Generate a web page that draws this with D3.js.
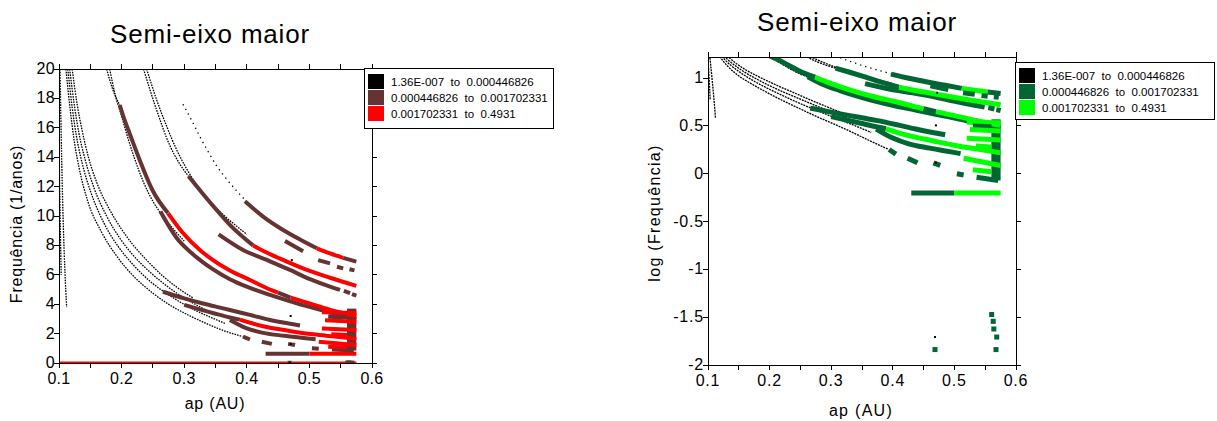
<!DOCTYPE html>
<html><head><meta charset="utf-8">
<script src="https://cdn.jsdelivr.net/npm/d3@7/dist/d3.min.js"></script>
<style>
body{margin:0;background:#fff}
svg{display:block}
text{font-family:Arial,"Liberation Sans",sans-serif;fill:#000}
</style>
</head><body>
<svg id="c" width="1217" height="421"></svg>
<script>
// ---------- categories / labels ----------
const classLabels = ["1.36E-007  to  0.000446826", "0.000446826  to  0.001702331", "0.001702331  to  0.4931"];
const leftColors = ["#000000", "#663333", "#ff0000"];
const rightColors = ["#000000", "#006633", "#00ff00"];
const xTickLabels = [0.1, 0.2, 0.3, 0.4, 0.5, 0.6];
const xTickMinor = [0.1, 0.15, 0.2, 0.25, 0.3, 0.35, 0.4, 0.45, 0.5, 0.55, 0.6];
const leftYTicks = [0, 2, 4, 6, 8, 10, 12, 14, 16, 18, 20];
const rightYTicks = [-2, -1.5, -1, -0.5, 0, 0.5, 1];

// ---------- data: [ap (AU), frequency (1/anos)] ----------
// thin black (class 0) dotted lines
const blkC1 = [[0.1016,20],[0.1043,13.8],[0.107,9.2],[0.1095,6.2],[0.1122,3.8]];
const blkC2 = [[0.1003,14.5],[0.1018,10],[0.1035,6]];
const blkL1 = [[0.111,20],[0.118,17.2],[0.124,15.2],[0.132,13.3],[0.146,11.0],[0.168,8.9],[0.19,7.4],[0.217,6.0],[0.25,4.75],[0.276,3.97],[0.30,3.4],[0.331,2.77],[0.36,2.25],[0.393,1.8]];
const blkL2 = [[0.114,20],[0.121,17.4],[0.128,15.4],[0.137,13.6],[0.151,11.6],[0.172,9.5],[0.195,7.9],[0.217,6.75],[0.25,5.4],[0.28,4.5],[0.31,3.75],[0.34,3.15],[0.365,2.7]];
const blkL3 = [[0.117,20],[0.125,17.4],[0.132,15.6],[0.142,13.8],[0.156,11.9],[0.176,10.0],[0.197,8.5],[0.217,7.4],[0.245,6.2],[0.275,5.15],[0.305,4.3],[0.335,3.6]];
const blkL4 = [[0.121,20],[0.129,17.6],[0.137,15.8],[0.147,14.0],[0.161,12.2],[0.18,10.5],[0.2,9.1],[0.217,8.1],[0.24,7.0],[0.265,5.95],[0.29,5.1],[0.315,4.4]];
const blkK2 = [[0.181,20],[0.19,18.2],[0.2,16.8],[0.208,15.6],[0.22,14.0],[0.235,12.3],[0.25,11.0],[0.267,9.95],[0.283,9.1],[0.30,8.3]];
const blkK3 = [[0.24,20],[0.256,17.9],[0.272,16.1],[0.288,14.5],[0.304,13.2],[0.322,12.0],[0.341,11.0],[0.362,10.1],[0.384,9.3],[0.40,8.75]];
const blkK4 = [[0.298,17.6],[0.312,16.5],[0.325,15.4],[0.338,14.4],[0.352,13.4],[0.368,12.5],[0.384,11.7],[0.397,11.1]];

// coloured bands: [ap, frequency, class of the segment that starts here]
const bandG2 = [[0.176,20,0],[0.186,18.6,0],[0.197,17.55,1],[0.205,16.5,1],[0.213,15.6,1],[0.229,13.8,1],[0.25,11.7,1],[0.274,10.2,2],[0.298,8.84,2],[0.325,7.69,2],[0.346,7.0,2],[0.373,6.3,2],[0.405,5.65,2],[0.437,5.0,2],[0.45,4.78,1],[0.47,4.45,2],[0.50,4.05,2],[0.535,3.6,2],[0.575,3.2,2]];
const bandG2low = [[0.262,10.3,1],[0.288,8.5,1],[0.314,7.4,1],[0.345,6.4,1],[0.373,5.7,1],[0.40,5.19,1],[0.437,4.63,1],[0.48,4.06,1],[0.506,3.75,1],[0.54,3.35,1],[0.575,3.0,1]];
const bandG3 = [[0.235,20,0],[0.256,17.2,0],[0.277,14.8,0],[0.292,13.6,0],[0.307,12.7,1],[0.33,11.5,1],[0.352,10.4,1],[0.373,9.4,1],[0.41,8.0,2],[0.43,7.55,2],[0.464,6.9,2],[0.496,6.33,2],[0.533,5.8,2],[0.575,5.25,2]];
const bandG3low = [[0.355,8.75,1],[0.394,7.69,1],[0.432,7.01,1],[0.469,6.33,1],[0.501,5.7,1],[0.533,5.19,1],[0.549,4.97,1]];
const bandG4 = [[0.397,11.0,1],[0.426,9.96,1],[0.458,9.05,1],[0.485,8.4,1],[0.512,7.8,2],[0.533,7.45,2],[0.554,7.15,1],[0.575,6.9,1]];
const bandG5a = [[0.266,4.85,1],[0.30,4.4,1],[0.33,4.05,1],[0.352,3.82,1],[0.373,3.61,1],[0.405,3.27,1],[0.437,2.93,1],[0.458,2.75,1],[0.485,2.55,1]];
const bandG5b = [[0.30,3.95,1],[0.35,3.35,1],[0.373,3.1,1],[0.389,2.95,2],[0.426,2.5,2],[0.466,2.2,2],[0.506,1.95,2],[0.54,1.8,2],[0.575,1.65,2]];
const bandG5c = [[0.373,2.93,1],[0.40,2.36,1],[0.426,2.05,1],[0.46,1.85,1],[0.51,1.62,1]];
const bandFlat = [[0.43,0.63,1],[0.50,0.63,2],[0.575,0.63,2]];
const zeroLine = [[0.1,0],[0.575,0]];

// short dashes: [ap0, f0, ap1, f1, class]
const dashes = [
  [0.394,1.79,0.405,1.6,1],[0.424,1.45,0.44,1.3,1],[0.466,1.3,0.477,1.22,1],
  [0.461,8.3,0.49,7.6,1],[0.514,7.0,0.533,6.78,1],[0.544,6.55,0.554,6.44,1],[0.564,6.38,0.572,6.3,1],
  [0.555,4.9,0.565,4.75,1],[0.568,4.68,0.575,4.58,1],
  [0.504,1.0,0.515,0.97,1],[0.536,0.92,0.571,0.85,1],[0.515,1.45,0.575,1.22,2],
  [0.52,3.45,0.575,3.4,2],[0.53,3.15,0.56,3.1,1],[0.525,2.9,0.575,2.8,2],
  [0.52,2.35,0.575,2.25,2],[0.535,1.95,0.56,1.9,2],[0.53,1.1,0.56,1.05,2]
];
// filled blocks: [ap0, ap1, f0, f1, class]
const blocks = [[0.56,0.575,0.85,3.7,1]];
// isolated points: [ap, f, class]
const points = [[0.5605,0.0337,1],[0.563,0.0286,1],[0.564,0.0238,1],[0.5687,0.0196,1],[0.5675,0.0145,1],[0.4685,0.0145,1],[0.4685,0.0196,0],[0.47,3.2,0],[0.47,1.3,0],[0.472,7.0,0]];

const blackLines = [blkC1, blkC2, blkL1, blkL2, blkL3, blkL4, blkK2, blkK3];
const sparseLines = [blkK4];
const bands = [bandG2low, bandG2, bandG3low, bandG3, bandG4, bandG5a, bandG5c, bandG5b, bandFlat];

// ---------- drawing ----------
const svg = d3.select("#c");

function runs(B) {
  const out = []; let s = 0;
  for (let i = 1; i < B.length; i++) {
    if (i === B.length - 1 || B[i][2] !== B[s][2]) { out.push({c: B[s][2], pts: B.slice(s, i + 1)}); s = i; }
  }
  return out;
}

function panel(o) {
  const g = svg.append("g");
  const x = d3.scaleLinear().domain([0.1, 0.6]).range(o.xr);
  const y = d3.scaleLinear().domain(o.yd).range(o.yr);
  const v = o.log ? (f => Math.log10(f)) : (f => f);
  const ok = f => !o.log || f > 0;
  const col = o.colors;
  const clipId = "clip" + o.id;
  svg.append("clipPath").attr("id", clipId).append("rect")
    .attr("x", o.xr[0]).attr("y", o.yr[1]).attr("width", o.xr[1] - o.xr[0]).attr("height", o.yr[0] - o.yr[1]);
  const plot = g.append("g").attr("clip-path", `url(#${clipId})`);
  const line = d3.line().x(d => x(d[0])).y(d => y(v(d[1]))).curve(d3.curveMonotoneX);

  blackLines.forEach(L => plot.append("path").attr("d", line(L)).attr("fill", "none")
    .attr("stroke", "#000").attr("stroke-width", o.lw).attr("stroke-dasharray", o.dash));
  sparseLines.forEach(L => plot.append("path").attr("d", line(L)).attr("fill", "none")
    .attr("stroke", "#000").attr("stroke-width", 1.3).attr("stroke-dasharray", "1.3,4"));

  if (!o.log) {
    plot.append("path").attr("d", d3.line().x(d => x(d[0])).y(d => y(d[1]))(zeroLine))
      .attr("stroke", col[2]).attr("stroke-width", 3).attr("fill", "none");
  }

  blocks.forEach(b => {
    plot.append("rect").attr("x", x(b[0])).attr("width", x(b[1]) - x(b[0]))
      .attr("y", y(v(b[3]))).attr("height", y(v(b[2])) - y(v(b[3]))).attr("fill", col[b[4]]);
  });

  bands.forEach(B => runs(B).forEach(r => {
    const p = plot.append("path").attr("d", line(r.pts)).attr("fill", "none").attr("stroke", col[r.c]);
    if (r.c === 0) p.attr("stroke-width", o.lw).attr("stroke-dasharray", o.dash);
    else p.attr("stroke-width", o.bw);
  }));

  dashes.forEach(d => plot.append("line")
    .attr("x1", x(d[0])).attr("y1", y(v(d[1]))).attr("x2", x(d[2])).attr("y2", y(v(d[3])))
    .attr("stroke", col[d[4]]).attr("stroke-width", o.bw));

  points.filter(p => ok(p[1])).forEach(p => {
    const s = p[2] === 0 ? 2 : o.bw;
    plot.append("rect").attr("x", x(p[0]) - s / 2).attr("y", y(v(p[1])) - s / 2)
      .attr("width", s).attr("height", s).attr("fill", col[p[2]]);
  });

  // frame and ticks
  const X0 = o.xr[0], X1 = o.xr[1], Y0 = o.yr[0], Y1 = o.yr[1];
  const ax = g.append("g").attr("stroke", "#000").attr("stroke-width", 1).attr("shape-rendering", "crispEdges");
  ax.append("rect").attr("x", X0).attr("y", Y1).attr("width", X1 - X0).attr("height", Y0 - Y1).attr("fill", "none");
  xTickMinor.forEach(t => {
    ax.append("line").attr("x1", x(t)).attr("x2", x(t)).attr("y1", Y0).attr("y2", Y0 + 5);
    ax.append("line").attr("x1", x(t)).attr("x2", x(t)).attr("y1", Y1).attr("y2", Y1 - 5);
  });
  o.yTicks.forEach(t => {
    ax.append("line").attr("x1", X0 - 5).attr("x2", X0).attr("y1", y(t)).attr("y2", y(t));
    ax.append("line").attr("x1", X1).attr("x2", X1 + 5).attr("y1", y(t)).attr("y2", y(t));
  });
  xTickLabels.forEach(t => g.append("text").attr("x", x(t)).attr("y", Y0 + 21).attr("text-anchor", "middle")
    .attr("font-size", o.tickFs).attr("letter-spacing", o.ls).text(d3.format(".1f")(t)));
  o.yTicks.forEach(t => g.append("text").attr("x", X0 - 4).attr("y", y(t) + 5).attr("text-anchor", "end")
    .attr("font-size", o.tickFs).attr("letter-spacing", o.ls).text(o.fmt(t)));

  // titles
  g.append("text").attr("x", o.titleX).attr("y", o.titleY).attr("text-anchor", "middle")
    .attr("font-size", 26).attr("letter-spacing", 0.8).text("Semi-eixo maior");
  g.append("text").attr("x", o.xlabX).attr("y", o.xlabY).attr("text-anchor", "middle")
    .attr("font-size", 16).attr("letter-spacing", o.ls + 0.5).text("ap (AU)");
  g.append("text").attr("transform", `translate(${o.ylabX},${o.ylabY}) rotate(-90)`).attr("text-anchor", "middle")
    .attr("font-size", 16).attr("letter-spacing", o.ls + 0.5).text(o.ylab);

  // legend
  const lg = g.append("g");
  lg.append("rect").attr("x", o.lg[0] + 0.5).attr("y", o.lg[1] + 0.5).attr("width", o.lg[2]).attr("height", o.lg[3])
    .attr("fill", "#fff").attr("stroke", "#000").attr("shape-rendering", "crispEdges");
  classLabels.forEach((lab, i) => {
    lg.append("rect").attr("x", o.lg[0] + 4).attr("y", o.lg[1] + 6 + i * 16).attr("width", 16).attr("height", 15).attr("fill", col[i]);
    lg.append("text").attr("x", o.lg[0] + 27).attr("y", o.lg[1] + 18 + i * 16).attr("font-size", 11.5)
      .style("white-space", "pre").text(lab);
  });
}

panel({id: "L", xr: [59, 372], yd: [0, 20], yr: [363, 69], log: false, colors: leftColors, bw: 4, lw: 1.3, dash: "1.6,1.1",
  yTicks: leftYTicks, fmt: d3.format("d"), tickFs: 16, ls: 0.3,
  titleX: 210, titleY: 43, xlabX: 215, xlabY: 409, ylabX: 22, ylabY: 224, ylab: "Frequência (1/anos)",
  lg: [364, 68, 189, 60]});
panel({id: "R", xr: [708, 1016], yd: [-2, 1.22], yr: [365, 57], log: true, colors: rightColors, bw: 5, lw: 1.3, dash: "2,0.9",
  yTicks: rightYTicks, fmt: t => (t === 0 ? "0" : String(t)), tickFs: 16, ls: 0.8,
  titleX: 857, titleY: 31, xlabX: 861, xlabY: 416, ylabX: 660, ylabY: 213, ylab: "log (Frequência)",
  lg: [1015, 62, 199, 57]});
</script>
</body></html>
